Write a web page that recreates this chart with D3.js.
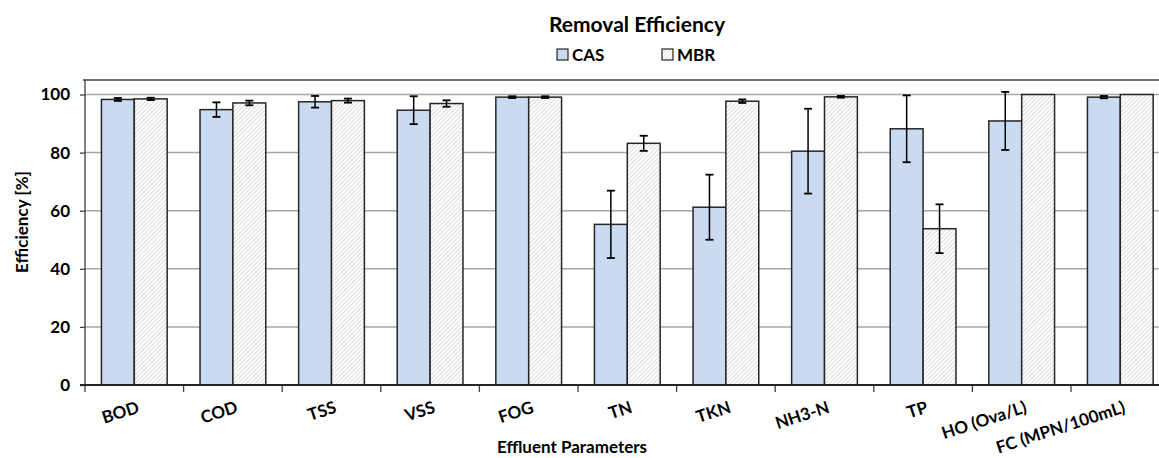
<!DOCTYPE html>
<html>
<head>
<meta charset="utf-8">
<script src="https://cdn.jsdelivr.net/npm/d3@7"></script>
<style>
  html, body { margin: 0; padding: 0; background: #fff; }
  svg { display: block; font-family: "Lato", "Open Sans", sans-serif; font-weight: bold; }
</style>
</head>
<body>
<svg id="chart" width="1159" height="458"></svg>
<script>
const categories = ["BOD", "COD", "TSS", "VSS", "FOG", "TN", "TKN", "NH3-N", "TP", "HO (Ova/L)", "FC (MPN/100mL)"];
const seriesNames = ["CAS", "MBR"];
const casValues = [98.3, 94.8, 97.5, 94.6, 99.1, 55.3, 61.2, 80.5, 88.2, 90.9, 99.1];
const casErrors = [0.5, 2.5, 2.0, 4.8, 0.3, 11.6, 11.2, 14.6, 11.5, 10.0, 0.4];
const mbrValues = [98.5, 97.1, 97.9, 96.9, 99.1, 83.2, 97.7, 99.2, 53.8, 100, 100];
const mbrErrors = [0.4, 0.8, 0.7, 1.1, 0.3, 2.6, 0.6, 0.3, 8.4, 0, 0];
const yTicks = [0, 20, 40, 60, 80, 100];

const svg = d3.select("#chart");
const pLeft = 85, pRight = 1169.6, pTop = 80, pBottom = 385;

const defs = svg.append("defs");
const pat = defs.append("pattern")
  .attr("id", "hatch").attr("patternUnits", "userSpaceOnUse")
  .attr("width", 3).attr("height", 3)
  .attr("patternTransform", "rotate(45)");
pat.append("rect").attr("width", 3).attr("height", 3).attr("fill", "#ffffff");
pat.append("line").attr("x1", 0).attr("y1", 0).attr("x2", 0).attr("y2", 3)
  .attr("stroke", "#bdbdbd").attr("stroke-width", 1.1);

const x0 = d3.scaleBand().domain(categories).range([pLeft, pRight]).paddingInner(0).paddingOuter(0);
const innerPad = x0.bandwidth() / 6;
const x1 = d3.scaleBand().domain(seriesNames).range([innerPad, x0.bandwidth() - innerPad]);
const y = d3.scaleLinear().domain([0, 105]).range([pBottom, pTop]);

// gridlines
svg.append("g").selectAll("line").data(yTicks.filter(d => d > 0)).join("line")
  .attr("x1", pLeft).attr("x2", pRight)
  .attr("y1", d => y(d)).attr("y2", d => y(d))
  .attr("stroke", "#a6a6a6").attr("stroke-width", 1.5);

// plot top border
svg.append("line").attr("x1", pLeft - 2).attr("x2", pRight).attr("y1", pTop).attr("y2", pTop)
  .attr("stroke", "#404040").attr("stroke-width", 1.3);

const data = categories.map((c, i) => ({
  cat: c,
  bars: [
    { s: "CAS", v: casValues[i], e: casErrors[i] },
    { s: "MBR", v: mbrValues[i], e: mbrErrors[i] }
  ]
}));

const groups = svg.append("g").selectAll("g").data(data).join("g")
  .attr("transform", d => `translate(${x0(d.cat)},0)`);

groups.selectAll("rect").data(d => d.bars).join("rect")
  .attr("x", d => x1(d.s))
  .attr("y", d => y(d.v))
  .attr("width", x1.bandwidth())
  .attr("height", d => y(0) - y(d.v))
  .attr("fill", d => d.s === "CAS" ? "#c9daf1" : "url(#hatch)")
  .attr("stroke", "#262626").attr("stroke-width", 1.5);

// error bars
const eb = groups.selectAll("g.eb").data(d => d.bars.filter(b => b.e > 0)).join("g").attr("class", "eb");
eb.append("line")
  .attr("x1", d => x1(d.s) + x1.bandwidth() / 2).attr("x2", d => x1(d.s) + x1.bandwidth() / 2)
  .attr("y1", d => y(d.v + d.e)).attr("y2", d => y(d.v - d.e))
  .attr("stroke", "#000").attr("stroke-width", 1.5);
eb.selectAll("line.cap").data(d => [
    { s: d.s, yy: d.v + d.e }, { s: d.s, yy: d.v - d.e }
  ]).join("line").attr("class", "cap")
  .attr("x1", d => x1(d.s) + x1.bandwidth() / 2 - 4).attr("x2", d => x1(d.s) + x1.bandwidth() / 2 + 4)
  .attr("y1", d => y(d.yy)).attr("y2", d => y(d.yy))
  .attr("stroke", "#000").attr("stroke-width", 1.8);

// y axis
const yAxis = svg.append("g").attr("transform", `translate(${pLeft},0)`)
  .call(d3.axisLeft(y).tickValues(yTicks).tickSize(5).tickPadding(10));
yAxis.select(".domain").attr("d", `M0,${pTop}V${pBottom}`).attr("stroke", "#404040").attr("stroke-width", 1.3);
yAxis.selectAll(".tick line").attr("stroke", "#404040").attr("stroke-width", 1.3);
yAxis.selectAll("text").attr("font-size", 17).attr("font-weight", "bold").attr("fill", "#000")
  .attr("font-family", "Lato, 'Open Sans', sans-serif");

// x axis
const tickPos = categories.map((c) => x0(c)).concat([pRight]);
svg.append("g").selectAll("line").data(tickPos).join("line")
  .attr("x1", d => d).attr("x2", d => d).attr("y1", pBottom).attr("y2", pBottom + 7)
  .attr("stroke", "#404040").attr("stroke-width", 1.3);
svg.append("line").attr("x1", pLeft - 5).attr("x2", pRight).attr("y1", pBottom).attr("y2", pBottom)
  .attr("stroke", "#262626").attr("stroke-width", 2);

svg.append("g").selectAll("text").data(categories).join("text")
  .attr("transform", d => `translate(${x0(d) + x0.bandwidth() / 2 + 2},${400}) rotate(-18)`)
  .attr("text-anchor", "end").attr("dy", "0.75em")
  .attr("font-size", 17).attr("fill", "#000")
  .text(d => d);

// axis titles
svg.append("text").attr("x", 572).attr("y", 453).attr("text-anchor", "middle")
  .attr("font-size", 17).attr("fill", "#000").text("Effluent Parameters");
svg.append("text").attr("transform", `translate(28,${222}) rotate(-90)`).attr("text-anchor", "middle")
  .attr("font-size", 17).attr("fill", "#000").text("Efficiency [%]");

// title
svg.append("text").attr("x", 637).attr("y", 32).attr("text-anchor", "middle")
  .attr("font-size", 21).attr("fill", "#000").text("Removal Efficiency");

// legend
const legendX = [557, 662];
const lg = svg.append("g").selectAll("g").data(seriesNames).join("g")
  .attr("transform", (d, i) => `translate(${legendX[i]},49)`);
lg.append("rect").attr("width", 11).attr("height", 11)
  .attr("fill", d => d === "CAS" ? "#c9daf1" : "url(#hatch)")
  .attr("stroke", "#262626").attr("stroke-width", 1.2);
lg.append("text").attr("x", 15).attr("y", 11.5).attr("font-size", 17).attr("fill", "#000").text(d => d);
</script>
</body>
</html>
